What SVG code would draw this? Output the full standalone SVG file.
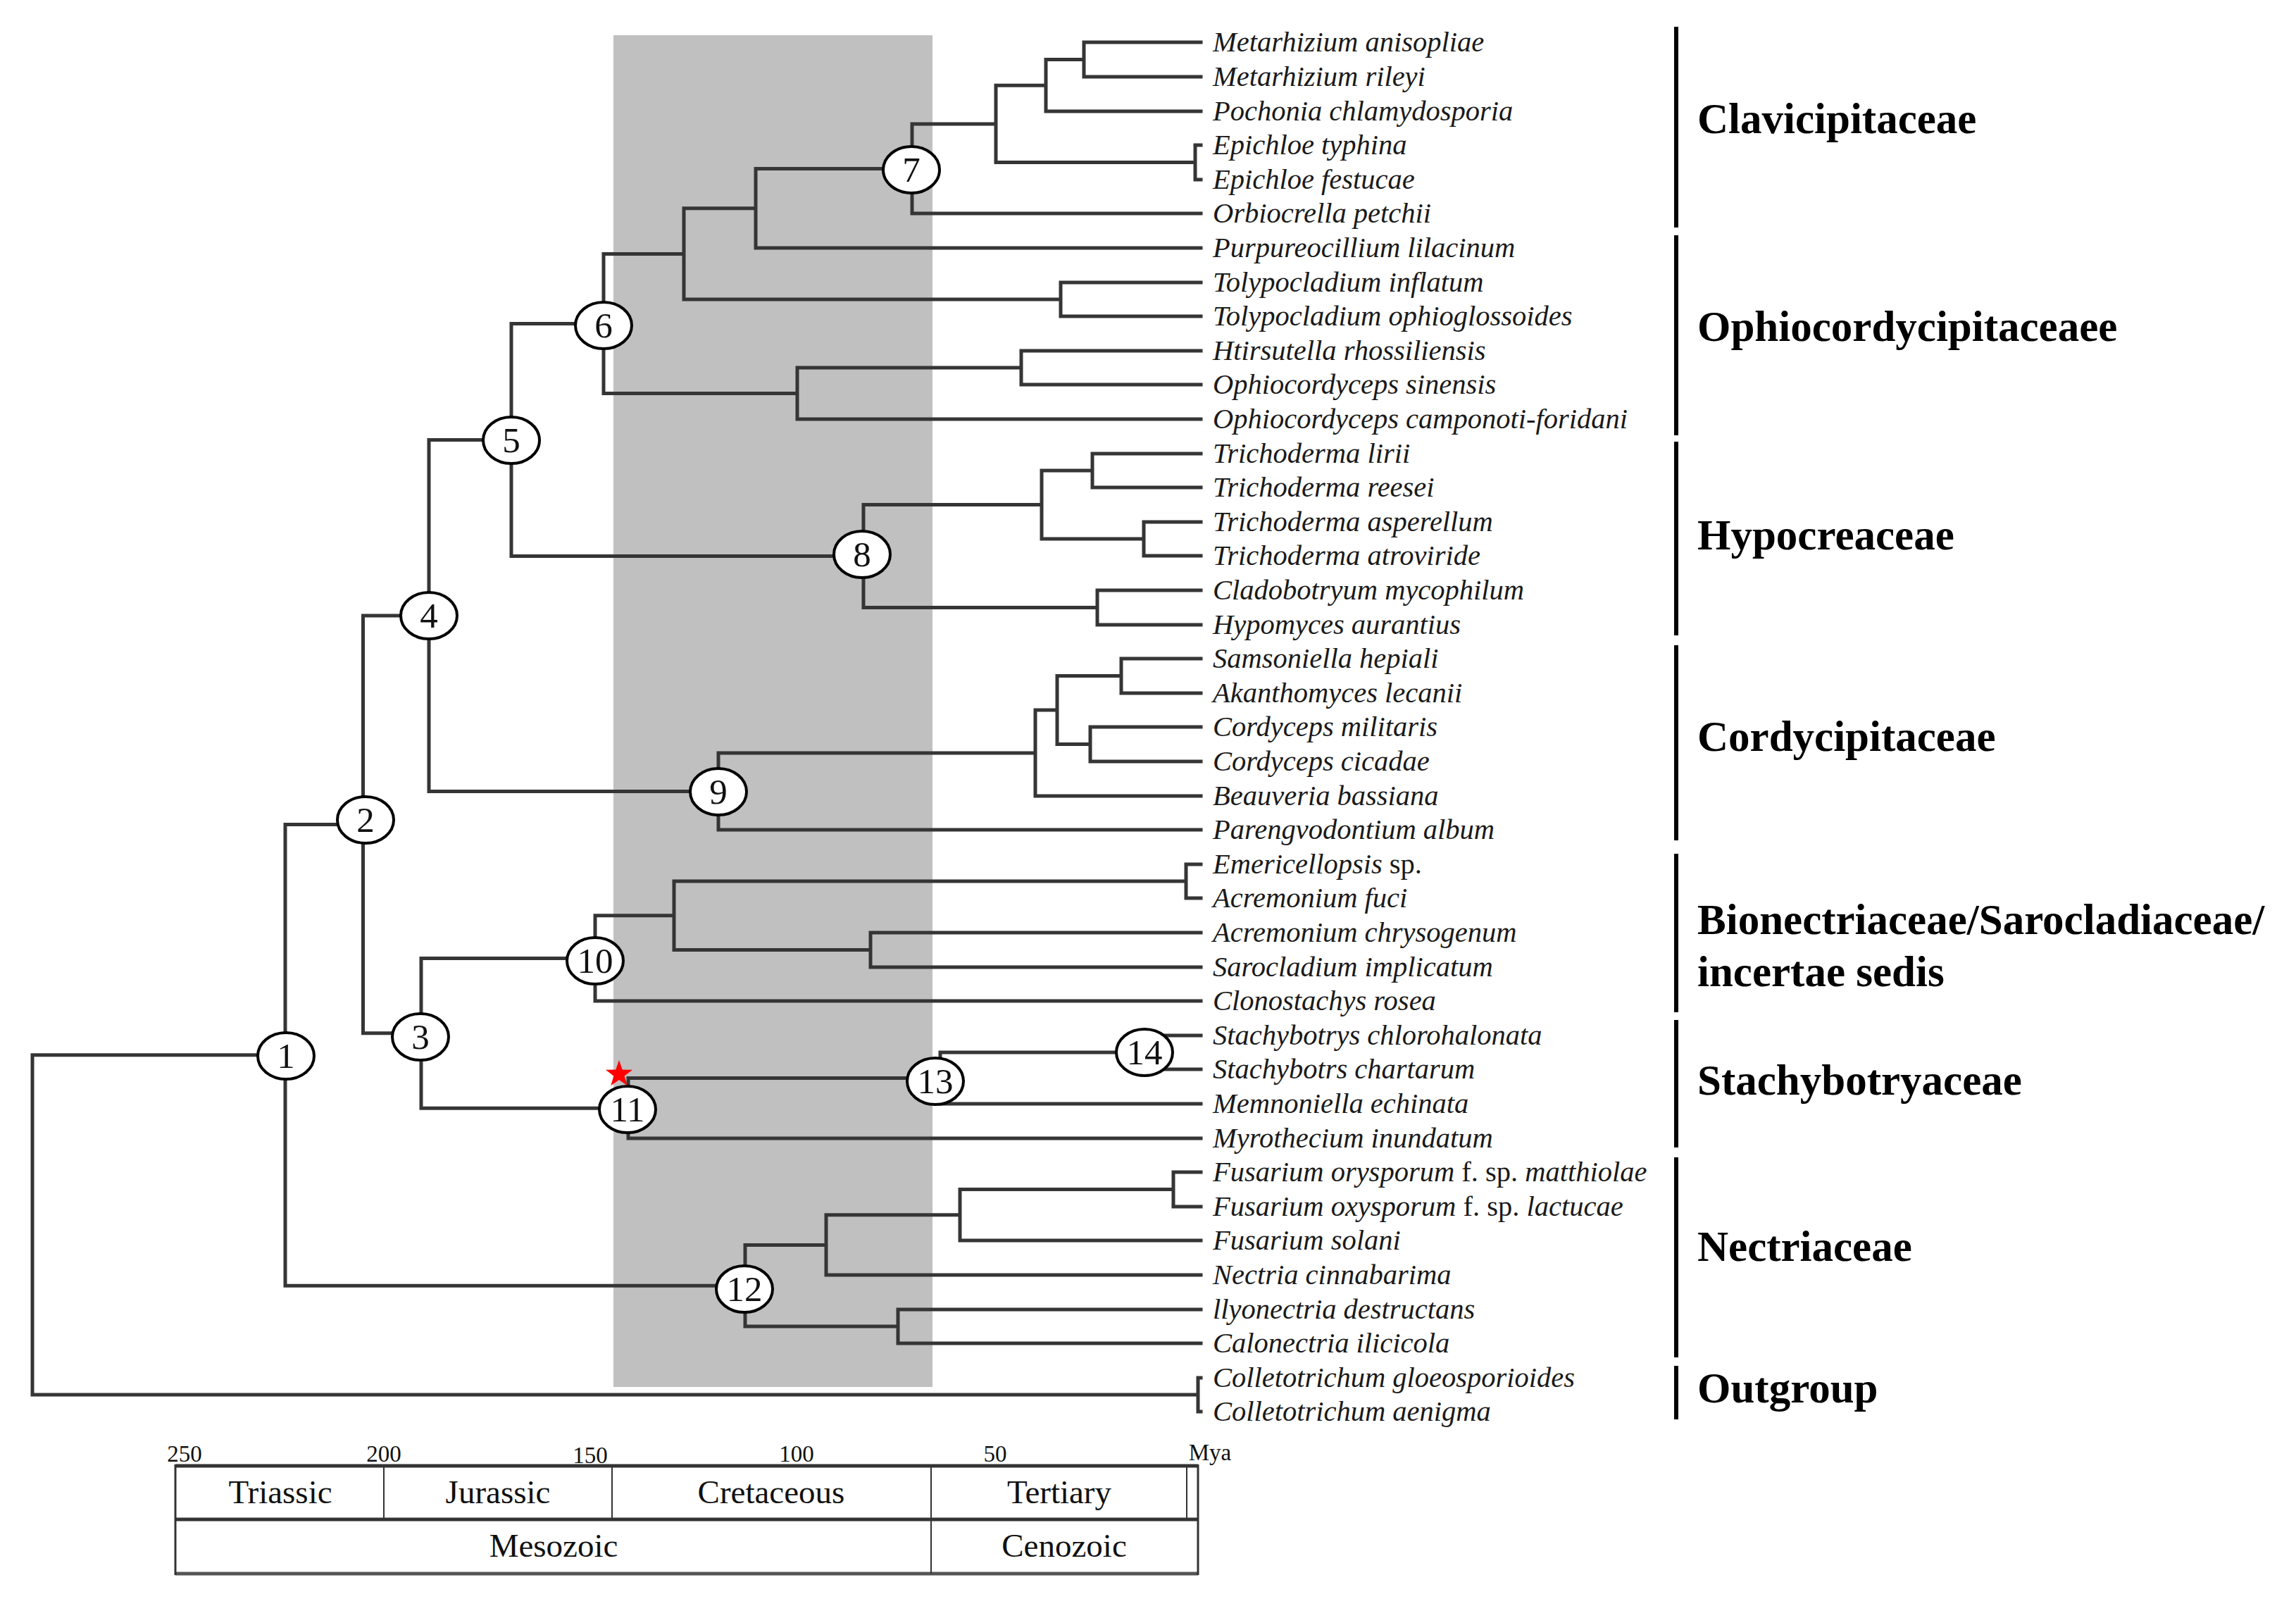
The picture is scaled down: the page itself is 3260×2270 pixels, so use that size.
<svg xmlns="http://www.w3.org/2000/svg" width="3260" height="2270" viewBox="0 0 3260 2270">
<style>
.br{fill:none;stroke:#353535;stroke-width:5;stroke-linecap:square}
.nd ellipse{fill:#fff;stroke:#000;stroke-width:4}
.nd text{font-family:"Liberation Serif",serif;font-size:51px;text-anchor:middle;fill:#111}
.lf{font-family:"Liberation Serif",serif;font-size:40.5px;font-style:italic;fill:#1a1a1a}
.up{font-style:normal}
.grp{font-family:"Liberation Serif",serif;font-size:61px;font-weight:bold;fill:#000}
.bar{stroke:#000;stroke-width:6}
.tk{font-family:"Liberation Serif",serif;font-size:33px;text-anchor:middle;fill:#111}
.per{font-family:"Liberation Serif",serif;font-size:47px;text-anchor:middle;fill:#111}
</style>
<rect x="0" y="0" width="3260" height="2270" fill="#fff"/>
<rect id="cretaceous-band" x="871" y="50" width="453" height="1919" fill="#c0c0c0"/>
<g id="connectors">
<path class="br" d="M1539 60V109M1539 60H1705M1539 109H1705
M1485 84.5V158M1485 84.5H1539M1485 158H1705
M1697 206V255M1697 206H1705M1697 255H1705
M1414 121.3V230.5M1414 121.3H1485M1414 230.5H1697
M1295 175.9V303M1295 175.9H1414M1295 303H1705
M1073 239.5V352M1073 239.5H1295M1073 352H1705
M1506 401V449M1506 401H1705M1506 449H1705
M971 295.8V425M971 295.8H1073M971 425H1506
M1450 498V546M1450 498H1705M1450 546H1705
M1132 522V595M1132 522H1450M1132 595H1705
M857 360.4V558.5M857 360.4H971M857 558.5H1132
M1551 644V692M1551 644H1705M1551 692H1705
M1624 741V789M1624 741H1705M1624 789H1705
M1479 668V765M1479 668H1551M1479 765H1624
M1558 838V887M1558 838H1705M1558 887H1705
M1226 716.5V862.5M1226 716.5H1479M1226 862.5H1558
M726 459.5V789.5M726 459.5H857M726 789.5H1226
M1592 935V984M1592 935H1705M1592 984H1705
M1548 1032V1081M1548 1032H1705M1548 1081H1705
M1501 959.5V1056.5M1501 959.5H1592M1501 1056.5H1548
M1470 1008V1130M1470 1008H1501M1470 1130H1705
M1020 1069V1178M1020 1069H1470M1020 1178H1705
M609 624.5V1123.5M609 624.5H726M609 1123.5H1020
M1684 1227V1275M1684 1227H1705M1684 1275H1705
M1236 1324V1373M1236 1324H1705M1236 1373H1705
M957 1251V1348.5M957 1251H1684M957 1348.5H1236
M845 1299.8V1421M845 1299.8H957M845 1421H1705
M1625 1470V1518M1625 1470H1705M1625 1518H1705
M1335 1494V1567M1335 1494H1625M1335 1567H1705
M892 1530.5V1616M892 1530.5H1335M892 1616H1705
M598 1360.4V1573.3M598 1360.4H845M598 1573.3H892
M515.5 874V1466.8M515.5 874H609M515.5 1466.8H598
M1666 1664V1713M1666 1664H1705M1666 1713H1705
M1363 1688.5V1761M1363 1688.5H1666M1363 1761H1705
M1173 1724.8V1810M1173 1724.8H1363M1173 1810H1705
M1275 1859V1907M1275 1859H1705M1275 1907H1705
M1058 1767.4V1883M1058 1767.4H1173M1058 1883H1275
M405 1170.4V1825.2M405 1170.4H515.5M405 1825.2H1058
M1701 1956V2004M1701 1956H1705M1701 2004H1705
M46 1497.8V1980M46 1497.8H405M46 1980H1701"/>
</g>
<g id="node-1" class="nd"><ellipse cx="406" cy="1499" rx="40" ry="33"/><text x="406" y="1516">1</text></g>
<g id="node-2" class="nd"><ellipse cx="519" cy="1164" rx="40" ry="33"/><text x="519" y="1181">2</text></g>
<g id="node-3" class="nd"><ellipse cx="597" cy="1472" rx="40" ry="33"/><text x="597" y="1489">3</text></g>
<g id="node-4" class="nd"><ellipse cx="609" cy="874" rx="40" ry="33"/><text x="609" y="891">4</text></g>
<g id="node-5" class="nd"><ellipse cx="726" cy="625" rx="40" ry="33"/><text x="726" y="642">5</text></g>
<g id="node-6" class="nd"><ellipse cx="857" cy="462" rx="40" ry="33"/><text x="857" y="479">6</text></g>
<g id="node-7" class="nd"><ellipse cx="1294" cy="241" rx="40" ry="33"/><text x="1294" y="258">7</text></g>
<g id="node-8" class="nd"><ellipse cx="1224" cy="787" rx="40" ry="33"/><text x="1224" y="804">8</text></g>
<g id="node-9" class="nd"><ellipse cx="1020" cy="1124" rx="40" ry="33"/><text x="1020" y="1141">9</text></g>
<g id="node-10" class="nd"><ellipse cx="845" cy="1364" rx="40" ry="33"/><text x="845" y="1381">10</text></g>
<g id="node-11" class="nd"><ellipse cx="891" cy="1575" rx="40" ry="33"/><text x="891" y="1592">11</text></g>
<g id="node-12" class="nd"><ellipse cx="1057" cy="1830" rx="40" ry="33"/><text x="1057" y="1847">12</text></g>
<g id="node-13" class="nd"><ellipse cx="1328" cy="1535" rx="40" ry="33"/><text x="1328" y="1552">13</text></g>
<g id="node-14" class="nd"><ellipse cx="1625" cy="1494" rx="40" ry="33"/><text x="1625" y="1511">14</text></g>
<g id="calibration-star"><polygon fill="#ff0000" points="879,1505 883.7,1518.5 898,1518.8 886.6,1527.5 890.8,1541.2 879,1533 867.2,1541.2 871.4,1527.5 860,1518.8 874.3,1518.5"/></g>
<g id="leaves">
<g id="leaf-0"><text class="lf" x="1722" y="73">Metarhizium anisopliae</text></g>
<g id="leaf-1"><text class="lf" x="1722" y="122">Metarhizium rileyi</text></g>
<g id="leaf-2"><text class="lf" x="1722" y="171">Pochonia chlamydosporia</text></g>
<g id="leaf-3"><text class="lf" x="1722" y="219">Epichloe typhina</text></g>
<g id="leaf-4"><text class="lf" x="1722" y="268">Epichloe festucae</text></g>
<g id="leaf-5"><text class="lf" x="1722" y="316">Orbiocrella petchii</text></g>
<g id="leaf-6"><text class="lf" x="1722" y="365">Purpureocillium lilacinum</text></g>
<g id="leaf-7"><text class="lf" x="1722" y="414">Tolypocladium inflatum</text></g>
<g id="leaf-8"><text class="lf" x="1722" y="462">Tolypocladium ophioglossoides</text></g>
<g id="leaf-9"><text class="lf" x="1722" y="511">Htirsutella rhossiliensis</text></g>
<g id="leaf-10"><text class="lf" x="1722" y="559">Ophiocordyceps sinensis</text></g>
<g id="leaf-11"><text class="lf" x="1722" y="608">Ophiocordyceps camponoti-foridani</text></g>
<g id="leaf-12"><text class="lf" x="1722" y="657">Trichoderma lirii</text></g>
<g id="leaf-13"><text class="lf" x="1722" y="705">Trichoderma reesei</text></g>
<g id="leaf-14"><text class="lf" x="1722" y="754">Trichoderma asperellum</text></g>
<g id="leaf-15"><text class="lf" x="1722" y="802">Trichoderma atroviride</text></g>
<g id="leaf-16"><text class="lf" x="1722" y="851">Cladobotryum mycophilum</text></g>
<g id="leaf-17"><text class="lf" x="1722" y="900">Hypomyces aurantius</text></g>
<g id="leaf-18"><text class="lf" x="1722" y="948">Samsoniella hepiali</text></g>
<g id="leaf-19"><text class="lf" x="1722" y="997">Akanthomyces lecanii</text></g>
<g id="leaf-20"><text class="lf" x="1722" y="1045">Cordyceps militaris</text></g>
<g id="leaf-21"><text class="lf" x="1722" y="1094">Cordyceps cicadae</text></g>
<g id="leaf-22"><text class="lf" x="1722" y="1143">Beauveria bassiana</text></g>
<g id="leaf-23"><text class="lf" x="1722" y="1191">Parengvodontium album</text></g>
<g id="leaf-24"><text class="lf" x="1722" y="1240">Emericellopsis<tspan class="up"> sp.</tspan></text></g>
<g id="leaf-25"><text class="lf" x="1722" y="1288">Acremonium fuci</text></g>
<g id="leaf-26"><text class="lf" x="1722" y="1337">Acremonium chrysogenum</text></g>
<g id="leaf-27"><text class="lf" x="1722" y="1386">Sarocladium implicatum</text></g>
<g id="leaf-28"><text class="lf" x="1722" y="1434">Clonostachys rosea</text></g>
<g id="leaf-29"><text class="lf" x="1722" y="1483">Stachybotrys chlorohalonata</text></g>
<g id="leaf-30"><text class="lf" x="1722" y="1531">Stachybotrs chartarum</text></g>
<g id="leaf-31"><text class="lf" x="1722" y="1580">Memnoniella echinata</text></g>
<g id="leaf-32"><text class="lf" x="1722" y="1629">Myrothecium inundatum</text></g>
<g id="leaf-33"><text class="lf" x="1722" y="1677">Fusarium orysporum<tspan class="up"> f. sp. </tspan>matthiolae</text></g>
<g id="leaf-34"><text class="lf" x="1722" y="1726">Fusarium oxysporum<tspan class="up"> f. sp. </tspan>lactucae</text></g>
<g id="leaf-35"><text class="lf" x="1722" y="1774">Fusarium solani</text></g>
<g id="leaf-36"><text class="lf" x="1722" y="1823">Nectria cinnabarima</text></g>
<g id="leaf-37"><text class="lf" x="1722" y="1872">llyonectria destructans</text></g>
<g id="leaf-38"><text class="lf" x="1722" y="1920">Calonectria ilicicola</text></g>
<g id="leaf-39"><text class="lf" x="1722" y="1969">Colletotrichum gloeosporioides</text></g>
<g id="leaf-40"><text class="lf" x="1722" y="2017">Colletotrichum aenigma</text></g>
</g>
<g id="families">
<g id="fam-clavicipitaceae"><line class="bar" x1="2380" y1="38" x2="2380" y2="323"/><text class="grp" x="2410" y="189">Clavicipitaceae</text></g>
<g id="fam-ophiocordycipitaceae"><line class="bar" x1="2380" y1="334" x2="2380" y2="618"/><text class="grp" x="2410" y="484">Ophiocordycipitaceaee</text></g>
<g id="fam-hypocreaceae"><line class="bar" x1="2380" y1="627" x2="2380" y2="902"/><text class="grp" x="2410" y="780">Hypocreaceae</text></g>
<g id="fam-cordycipitaceae"><line class="bar" x1="2380" y1="916" x2="2380" y2="1193"/><text class="grp" x="2410" y="1066">Cordycipitaceae</text></g>
<g id="fam-bionectriaceae"><line class="bar" x1="2380" y1="1212" x2="2380" y2="1437"/><text class="grp" x="2410" y="1326">Bionectriaceae/Sarocladiaceae/</text><text class="grp" x="2410" y="1400">incertae sedis</text></g>
<g id="fam-stachybotryaceae"><line class="bar" x1="2380" y1="1448" x2="2380" y2="1629"/><text class="grp" x="2410" y="1554">Stachybotryaceae</text></g>
<g id="fam-nectriaceae"><line class="bar" x1="2380" y1="1643" x2="2380" y2="1927"/><text class="grp" x="2410" y="1790">Nectriaceae</text></g>
<g id="fam-outgroup"><line class="bar" x1="2380" y1="1939" x2="2380" y2="2015"/><text class="grp" x="2410" y="1991">Outgroup</text></g>
</g>
<g id="timescale">
<text class="tk" x="262" y="2075">250</text>
<text class="tk" x="545" y="2075">200</text>
<text class="tk" x="838" y="2077">150</text>
<text class="tk" x="1131" y="2075">100</text>
<text class="tk" x="1413" y="2075">50</text>
<text class="tk" x="1718" y="2073">Mya</text>
<line x1="249" y1="2081" x2="1701" y2="2081" stroke="#333" stroke-width="5"/>
<line x1="249" y1="2157" x2="1701" y2="2157" stroke="#333" stroke-width="5"/>
<line x1="249" y1="2234" x2="1701" y2="2234" stroke="#555" stroke-width="5"/>
<line x1="249" y1="2079" x2="249" y2="2236" stroke="#333" stroke-width="3"/>
<line x1="1701" y1="2079" x2="1701" y2="2236" stroke="#333" stroke-width="3"/>
<line x1="545" y1="2081" x2="545" y2="2157" stroke="#333" stroke-width="2"/>
<line x1="869" y1="2081" x2="869" y2="2157" stroke="#333" stroke-width="2"/>
<line x1="1322" y1="2081" x2="1322" y2="2234" stroke="#333" stroke-width="2"/>
<line x1="1685" y1="2081" x2="1685" y2="2157" stroke="#333" stroke-width="2"/>
<text class="per" x="398" y="2134">Triassic</text>
<text class="per" x="707" y="2134">Jurassic</text>
<text class="per" x="1095" y="2134">Cretaceous</text>
<text class="per" x="1504" y="2134">Tertiary</text>
<text class="per" x="786" y="2210">Mesozoic</text>
<text class="per" x="1511" y="2210">Cenozoic</text>
</g>
</svg>
